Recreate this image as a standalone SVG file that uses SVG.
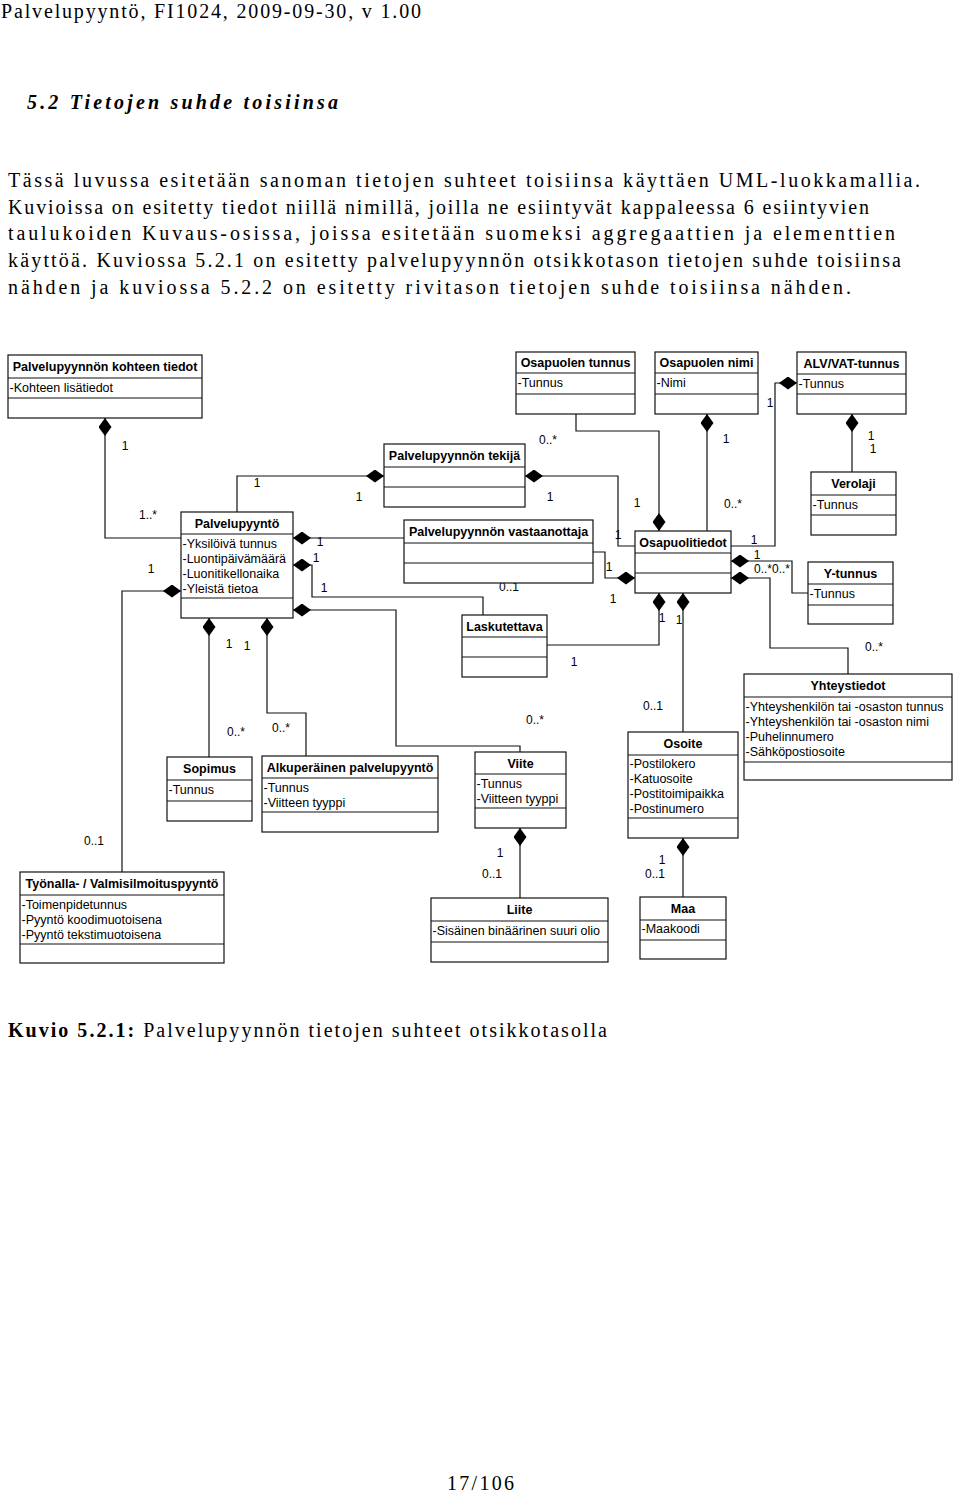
<svg xmlns="http://www.w3.org/2000/svg" width="960" height="1493" viewBox="0 0 960 1493">
<style>
.box{fill:#fff;stroke:#111;stroke-width:1.2}
.sep{stroke:#111;stroke-width:1.2}
.t{font-family:"Liberation Sans",Arial,sans-serif;font-size:12.5px;font-weight:bold;text-anchor:middle;fill:#000}
.a{font-family:"Liberation Sans",Arial,sans-serif;font-size:12.5px;fill:#000}
.m{font-family:"Liberation Sans",Arial,sans-serif;font-size:12px;text-anchor:middle;fill:#000}
.c{fill:none;stroke:#111;stroke-width:1.2;marker-start:url(#dia)}
.p{font-family:"Liberation Serif","Times New Roman",serif;font-size:20px;fill:#000}
</style>
<defs>
<marker id="dia" viewBox="0 0 18 13" refX="0" refY="6.5" markerWidth="18" markerHeight="13" markerUnits="userSpaceOnUse" orient="auto">
<path d="M0,6.5 L9,0 L18,6.5 L9,13 Z" fill="#000"/>
</marker>
</defs>
<rect width="960" height="1493" fill="#fff"/>

<text class="p" x="1" y="18" textLength="420" lengthAdjust="spacing">Palvelupyyntö, FI1024, 2009-09-30, v 1.00</text>
<text class="p" x="27" y="109" font-weight="bold" font-style="italic" textLength="311" lengthAdjust="spacing">5.2 Tietojen suhde toisiinsa</text>
<text class="p" x="8" y="187" textLength="912" lengthAdjust="spacing">Tässä luvussa esitetään sanoman tietojen suhteet toisiinsa käyttäen UML-luokkamallia.</text>
<text class="p" x="8" y="214" textLength="861" lengthAdjust="spacing">Kuvioissa on esitetty tiedot niillä nimillä, joilla ne esiintyvät kappaleessa 6 esiintyvien</text>
<text class="p" x="8" y="240" textLength="887" lengthAdjust="spacing">taulukoiden Kuvaus-osissa, joissa esitetään suomeksi aggregaattien ja elementtien</text>
<text class="p" x="8" y="267" textLength="893" lengthAdjust="spacing">käyttöä. Kuviossa 5.2.1 on esitetty palvelupyynnön otsikkotason tietojen suhde toisiinsa</text>
<text class="p" x="8" y="294" textLength="843" lengthAdjust="spacing">nähden ja kuviossa 5.2.2 on esitetty rivitason tietojen suhde toisiinsa nähden.</text>

<g id="connectors">
<polyline class="c" points="105,418 105,538 181,538"/>
<polyline class="c" points="384,476 237,476 237,512"/>
<polyline class="c" points="525,476 618,476 618,546 635,546"/>
<polyline class="c" points="659,531 659,431 576,431 576,414"/>
<polyline class="c" points="707,414 707,531"/>
<polyline class="c" points="797,383 775,383 775,546 731,546"/>
<polyline class="c" points="852,414 852,472"/>
<polyline class="c" points="731,561 792,561 792,593 808,593"/>
<polyline class="c" points="731,578 770,578 770,648 848,648 848,674"/>
<polyline class="c" points="659,593 659,645 547,645"/>
<polyline class="c" points="683,593 683,732"/>
<polyline class="c" points="635,578 605,578 605,552 593,552"/>
<polyline class="c" points="293,538 404,538"/>
<polyline class="c" points="293,565 312,565 312,597 483,597 483,615"/>
<polyline class="c" points="293,610 396,610 396,746 520,746 520,752"/>
<polyline class="c" points="181,591 122,591 122,872"/>
<polyline class="c" points="209,618 209,757"/>
<polyline class="c" points="267,618 267,713 306,713 306,756"/>
<polyline class="c" points="520,828 520,898"/>
<polyline class="c" points="683,838 683,897"/>
</g>

<g id="labels">
<text class="m" x="125" y="450">1</text>
<text class="m" x="148" y="519">1..*</text>
<text class="m" x="151" y="573">1</text>
<text class="m" x="94" y="845">0..1</text>
<text class="m" x="229" y="648">1</text>
<text class="m" x="247" y="650">1</text>
<text class="m" x="236" y="736">0..*</text>
<text class="m" x="281" y="732">0..*</text>
<text class="m" x="257" y="487">1</text>
<text class="m" x="359" y="501">1</text>
<text class="m" x="550" y="501">1</text>
<text class="m" x="548" y="444">0..*</text>
<text class="m" x="320" y="546">1</text>
<text class="m" x="316" y="562">1</text>
<text class="m" x="424" y="549">1</text>
<text class="m" x="324" y="592">1</text>
<text class="m" x="509" y="591">0..1</text>
<text class="m" x="609" y="571">1</text>
<text class="m" x="613" y="603">1</text>
<text class="m" x="618" y="539">1</text>
<text class="m" x="637" y="507">1</text>
<text class="m" x="574" y="666">1</text>
<text class="m" x="535" y="724">0..*</text>
<text class="m" x="500" y="857">1</text>
<text class="m" x="492" y="878">0..1</text>
<text class="m" x="662" y="864">1</text>
<text class="m" x="655" y="878">0..1</text>
<text class="m" x="653" y="710">0..1</text>
<text class="m" x="733" y="508">0..*</text>
<text class="m" x="754" y="544">1</text>
<text class="m" x="757" y="559">1</text>
<text class="m" x="763" y="573">0..*</text>
<text class="m" x="781" y="573">0..*</text>
<text class="m" x="662" y="622">1</text>
<text class="m" x="679" y="624">1</text>
<text class="m" x="874" y="651">0..*</text>
<text class="m" x="770" y="407">1</text>
<text class="m" x="726" y="443">1</text>
<text class="m" x="871" y="440">1</text>
<text class="m" x="873" y="453">1</text>
</g>

<g id="n-kohde">
<rect class="box" x="8" y="355" width="194" height="63"/>
<line class="sep" x1="8" y1="378" x2="202" y2="378"/><line class="sep" x1="8" y1="398" x2="202" y2="398"/>
<text class="t" x="105" y="371">Palvelupyynnön kohteen tiedot</text>
<text class="a" x="9.5" y="391.5">-Kohteen lisätiedot</text>
</g>
<g id="n-osapuolen-tunnus">
<rect class="box" x="516" y="352" width="119" height="62"/>
<line class="sep" x1="516" y1="373" x2="635" y2="373"/><line class="sep" x1="516" y1="394" x2="635" y2="394"/>
<text class="t" x="575.5" y="367">Osapuolen tunnus</text>
<text class="a" x="517.5" y="387">-Tunnus</text>
</g>
<g id="n-osapuolen-nimi">
<rect class="box" x="655" y="352" width="103" height="62"/>
<line class="sep" x1="655" y1="373" x2="758" y2="373"/><line class="sep" x1="655" y1="394" x2="758" y2="394"/>
<text class="t" x="706.5" y="367">Osapuolen nimi</text>
<text class="a" x="656.5" y="387">-Nimi</text>
</g>
<g id="n-alv">
<rect class="box" x="797" y="352" width="109" height="62"/>
<line class="sep" x1="797" y1="374" x2="906" y2="374"/><line class="sep" x1="797" y1="394" x2="906" y2="394"/>
<text class="t" x="851.5" y="367.5">ALV/VAT-tunnus</text>
<text class="a" x="798.5" y="387.5">-Tunnus</text>
</g>
<g id="n-tekija">
<rect class="box" x="384" y="444" width="141" height="63"/>
<line class="sep" x1="384" y1="467" x2="525" y2="467"/><line class="sep" x1="384" y1="487" x2="525" y2="487"/>
<text class="t" x="454.5" y="460">Palvelupyynnön tekijä</text>
</g>
<g id="n-verolaji">
<rect class="box" x="811" y="472" width="85" height="63"/>
<line class="sep" x1="811" y1="495" x2="896" y2="495"/><line class="sep" x1="811" y1="515" x2="896" y2="515"/>
<text class="t" x="853.5" y="488">Verolaji</text>
<text class="a" x="812.5" y="508.5">-Tunnus</text>
</g>
<g id="n-palvelupyynto">
<rect class="box" x="181" y="512" width="112" height="106"/>
<line class="sep" x1="181" y1="534" x2="293" y2="534"/><line class="sep" x1="181" y1="598" x2="293" y2="598"/>
<text class="t" x="237" y="527.5">Palvelupyyntö</text>
<text class="a" x="182.5" y="547.5">-Yksilöivä tunnus</text>
<text class="a" x="182.5" y="562.8">-Luontipäivämäärä</text>
<text class="a" x="182.5" y="578.1">-Luonitikellonaika</text>
<text class="a" x="182.5" y="593.4">-Yleistä tietoa</text>
</g>
<g id="n-vastaanottaja">
<rect class="box" x="404" y="520" width="189" height="63"/>
<line class="sep" x1="404" y1="543" x2="593" y2="543"/><line class="sep" x1="404" y1="563" x2="593" y2="563"/>
<text class="t" x="498.5" y="536">Palvelupyynnön vastaanottaja</text>
</g>
<g id="n-osapuolitiedot">
<rect class="box" x="635" y="531" width="96" height="62"/>
<line class="sep" x1="635" y1="553" x2="731" y2="553"/><line class="sep" x1="635" y1="573" x2="731" y2="573"/>
<text class="t" x="683" y="546.5">Osapuolitiedot</text>
</g>
<g id="n-ytunnus">
<rect class="box" x="808" y="562" width="85" height="62"/>
<line class="sep" x1="808" y1="584" x2="893" y2="584"/><line class="sep" x1="808" y1="605" x2="893" y2="605"/>
<text class="t" x="850.5" y="577.5">Y-tunnus</text>
<text class="a" x="809.5" y="597.5">-Tunnus</text>
</g>
<g id="n-laskutettava">
<rect class="box" x="462" y="615" width="85" height="62"/>
<line class="sep" x1="462" y1="637" x2="547" y2="637"/><line class="sep" x1="462" y1="657" x2="547" y2="657"/>
<text class="t" x="504.5" y="630.5">Laskutettava</text>
</g>
<g id="n-yhteystiedot">
<rect class="box" x="744" y="674" width="208" height="106"/>
<line class="sep" x1="744" y1="697" x2="952" y2="697"/><line class="sep" x1="744" y1="762" x2="952" y2="762"/>
<text class="t" x="848" y="690">Yhteystiedot</text>
<text class="a" x="745.5" y="710.5">-Yhteyshenkilön tai -osaston tunnus</text>
<text class="a" x="745.5" y="725.8">-Yhteyshenkilön tai -osaston nimi</text>
<text class="a" x="745.5" y="741.1">-Puhelinnumero</text>
<text class="a" x="745.5" y="756.4">-Sähköpostiosoite</text>
</g>
<g id="n-osoite">
<rect class="box" x="628" y="732" width="110" height="106"/>
<line class="sep" x1="628" y1="755" x2="738" y2="755"/><line class="sep" x1="628" y1="818" x2="738" y2="818"/>
<text class="t" x="683" y="748">Osoite</text>
<text class="a" x="629.5" y="767.5">-Postilokero</text>
<text class="a" x="629.5" y="782.8">-Katuosoite</text>
<text class="a" x="629.5" y="798.1">-Postitoimipaikka</text>
<text class="a" x="629.5" y="813.4">-Postinumero</text>
</g>
<g id="n-sopimus">
<rect class="box" x="167" y="757" width="85" height="64"/>
<line class="sep" x1="167" y1="780" x2="252" y2="780"/><line class="sep" x1="167" y1="801" x2="252" y2="801"/>
<text class="t" x="209.5" y="773">Sopimus</text>
<text class="a" x="168.5" y="794">-Tunnus</text>
</g>
<g id="n-alkuperainen">
<rect class="box" x="262" y="756" width="176" height="76"/>
<line class="sep" x1="262" y1="778" x2="438" y2="778"/><line class="sep" x1="262" y1="812" x2="438" y2="812"/>
<text class="t" x="350" y="771.5">Alkuperäinen palvelupyyntö</text>
<text class="a" x="263.5" y="791.5">-Tunnus</text>
<text class="a" x="263.5" y="806.8">-Viitteen tyyppi</text>
</g>
<g id="n-viite">
<rect class="box" x="475" y="752" width="91" height="76"/>
<line class="sep" x1="475" y1="774" x2="566" y2="774"/><line class="sep" x1="475" y1="808" x2="566" y2="808"/>
<text class="t" x="520.5" y="767.5">Viite</text>
<text class="a" x="476.5" y="787.5">-Tunnus</text>
<text class="a" x="476.5" y="802.8">-Viitteen tyyppi</text>
</g>
<g id="n-tyonalla">
<rect class="box" x="20" y="872" width="204" height="91"/>
<line class="sep" x1="20" y1="895" x2="224" y2="895"/><line class="sep" x1="20" y1="944" x2="224" y2="944"/>
<text class="t" x="122" y="888">Työnalla- / Valmisilmoituspyyntö</text>
<text class="a" x="21.5" y="908.5">-Toimenpidetunnus</text>
<text class="a" x="21.5" y="923.8">-Pyyntö koodimuotoisena</text>
<text class="a" x="21.5" y="939.1">-Pyyntö tekstimuotoisena</text>
</g>
<g id="n-liite">
<rect class="box" x="431" y="898" width="177" height="64"/>
<line class="sep" x1="431" y1="921" x2="608" y2="921"/><line class="sep" x1="431" y1="942" x2="608" y2="942"/>
<text class="t" x="519.5" y="914">Liite</text>
<text class="a" x="432.5" y="934.5">-Sisäinen binäärinen suuri olio</text>
</g>
<g id="n-maa">
<rect class="box" x="640" y="897" width="86" height="62"/>
<line class="sep" x1="640" y1="920" x2="726" y2="920"/><line class="sep" x1="640" y1="940" x2="726" y2="940"/>
<text class="t" x="683" y="913">Maa</text>
<text class="a" x="641.5" y="933">-Maakoodi</text>
</g>

<text class="p" x="8" y="1037" textLength="599" lengthAdjust="spacing"><tspan font-weight="bold">Kuvio 5.2.1:</tspan> Palvelupyynnön tietojen suhteet otsikkotasolla</text>
<text class="p" x="447" y="1490" textLength="67" lengthAdjust="spacing">17/106</text>
</svg>
